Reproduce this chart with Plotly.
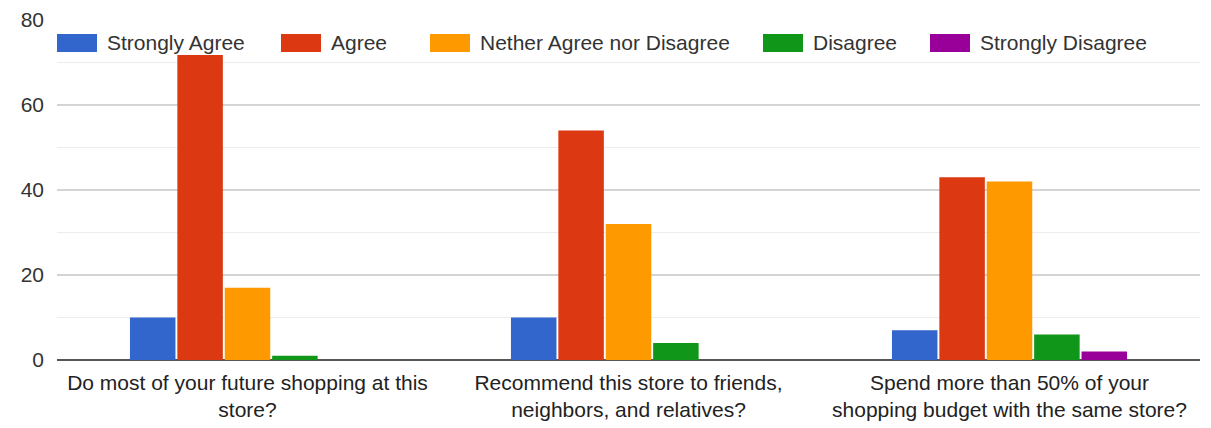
import plotly.graph_objects as go

categories = [
    "Do most of your future shopping at this<br>store?",
    "Recommend this store to friends,<br>neighbors, and relatives?",
    "Spend more than 50% of your<br>shopping budget with the same store?",
]
series_names = ["Strongly Agree", "Agree", "Nether Agree nor Disagree", "Disagree", "Strongly Disagree"]
strongly_agree = [10, 10, 7]
agree = [72, 54, 43]
neither = [17, 32, 42]
disagree = [1, 4, 6]
strongly_disagree = [0, 0, 2]
y_ticks = [0, 20, 40, 60, 80]

values = [strongly_agree, agree, neither, disagree, strongly_disagree]
colors = ["#3366cc", "#dc3912", "#ff9900", "#109618", "#990099"]

L, R, T, B = 57, 11, 20, 68
W, H = 1211, 428
pw, ph = W - L - R, H - T - B

fig = go.Figure()
for name, vals, col in zip(series_names, values, colors):
    fig.add_trace(go.Bar(x=categories, y=vals, name=name, marker=dict(color=col, line=dict(width=0)),
                         showlegend=False))

# custom legend (wide swatches like the original)
swatch_x = [57, 281, 430, 763, 930]
shapes = []
annotations = []
def px2x(px):
    return (px - L) / pw
def py2y(py):
    return (H - B - py) / ph
for sx, name, col in zip(swatch_x, series_names, colors):
    shapes.append(dict(type="rect", xref="paper", yref="paper",
                       x0=px2x(sx), x1=px2x(sx + 40), y0=py2y(52), y1=py2y(34),
                       fillcolor=col, line=dict(width=0), layer="above"))
    annotations.append(dict(xref="paper", yref="paper", x=px2x(sx + 48), y=py2y(43),
                            text=name, showarrow=False, xanchor="left", yanchor="middle",
                            font=dict(size=21, color="#333333")))
# white backdrop behind legend
shapes.insert(0, dict(type="rect", xref="paper", yref="paper", x0=0, x1=px2x(1160),
                      y0=py2y(55), y1=py2y(31), fillcolor="white", line=dict(width=0), layer="above"))

fig.update_layout(
    width=W, height=H,
    margin=dict(l=L, r=R, t=T, b=B),
    paper_bgcolor="white", plot_bgcolor="white",
    barmode="group", bargap=0.378, bargroupgap=0.04,
    font=dict(family="Liberation Sans, Arial, sans-serif", size=21, color="#333333"),
    shapes=shapes, annotations=annotations,
    xaxis=dict(showgrid=False, ticks="", tickfont=dict(size=21, color="#222222"), showline=False,
               ticklabelstandoff=8, automargin=False),
    yaxis=dict(range=[0, 80], tickvals=y_ticks, showgrid=True, gridcolor="#d4d4d4", gridwidth=1.5,
               minor=dict(dtick=10, showgrid=True, gridcolor="#ececec", gridwidth=1),
               zeroline=True, zerolinecolor="#555555", zerolinewidth=2,
               tickfont=dict(size=21, color="#333333"), ticklabelstandoff=12, automargin=False),
    showlegend=False,
)

fig.write_html("out.html")
